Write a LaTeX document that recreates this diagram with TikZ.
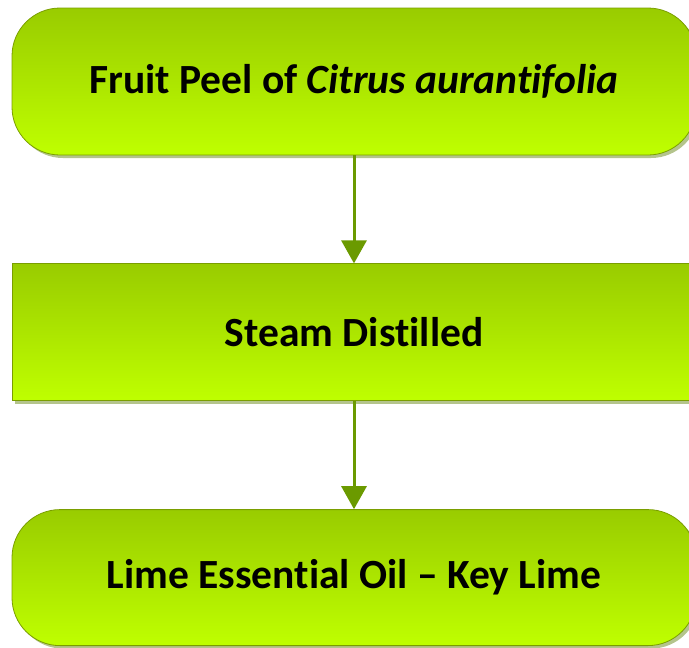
\documentclass[tikz,border=0pt]{standalone}
\usepackage{fontspec}
\setmainfont[Ligatures=NoCommon]{Carlito}
\usetikzlibrary{positioning, arrows.meta, shadows}

\definecolor{limetop}{HTML}{99CC00}
\definecolor{limebot}{HTML}{BFFF00}
\definecolor{limeline}{HTML}{7A9E00}
\definecolor{limearrow}{HTML}{6B9A00}
\definecolor{limeshadow}{HTML}{B4C48C}

\begin{document}
\begin{tikzpicture}
	[x=1pt, y=1pt, node distance=108pt,
	 stage/.style={draw=limeline, line width=0.8pt, top color=limetop, bottom color=limebot,
	   minimum width=684pt, font=\fontsize{41.5}{45}\selectfont\bfseries, inner sep=0pt,
	   drop shadow={shadow xshift=3pt, shadow yshift=-3pt, fill=limeshadow, opacity=1}},
	 pill/.style={stage, rounded corners=48pt, minimum height=147pt}]
   \useasboundingbox (0,0) rectangle (689,-648);
   \node[pill] (peel) at (354,-81.5) {Fruit Peel of \textit{Citrus aurantifolia}};
   \node[stage, minimum height=137pt] (steam) [below=of peel] {Steam Distilled};
   \node[pill, minimum height=136pt] (oil) [below=of steam] {Lime Essential Oil – Key Lime};

    \path[-{Triangle[length=23pt,width=25pt]}, color=limearrow, line width=3pt]
    (peel) edge (steam)
    (steam) edge (oil);
\end{tikzpicture}
\end{document}
